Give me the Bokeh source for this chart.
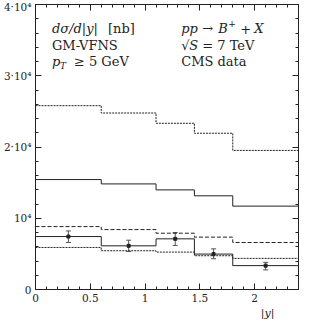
import numpy as np
from bokeh.plotting import figure
from bokeh.models import Range1d, FixedTicker, LinearAxis, Label, Whisker, ColumnDataSource, TeeHead, Title
from bokeh.core.properties import value
from bokeh.embed import file_html
from bokeh.resources import INLINE

# bin edges in |y|
edges = [0.0, 0.6, 1.1, 1.45, 1.8, 2.4]
# theory curves (nb)
upper_dotted = [25800, 24770, 23330, 21930, 19520]
upper_solid = [15430, 14820, 13980, 13150, 11700]
lower_dashed = [8830, 8410, 7900, 7350, 6600]
lower_solid = [7430, 6130, 7110, 4970, 3350]
lower_dotted = [5900, 5440, 5250, 4740, 4370]
# CMS data
data_y = [0.3, 0.85, 1.275, 1.625, 2.1]
data_val = [7430, 6130, 7110, 4970, 3350]
data_lo = [6600, 5340, 6180, 4320, 2750]
data_hi = [8220, 6920, 7990, 5710, 3810]

x_ticks = [0, 0.5, 1, 1.5, 2]
x_tick_labels = ["0", "0.5", "1", "1.5", "2"]
y_ticks = [0, 10000, 20000, 30000, 40000]
y_tick_labels = ["0", "10⁴", "2·10⁴", "3·10⁴", "4·10⁴"]

FONT = "DejaVu Serif"
INK = "#222222"

p = figure(width=301, height=319, output_backend="svg", toolbar_location=None,
           x_range=Range1d(0, 2.4), y_range=Range1d(0, 40000),
           min_border_left=4, min_border_bottom=0, min_border_top=4, min_border_right=3)
p.background_fill_color = "white"
p.border_fill_color = "white"
p.grid.visible = False
p.outline_line_color = INK
p.outline_line_width = 1

x_minor = [round(0.1 * i, 2) for i in range(0, 25)]
y_minor = list(range(0, 40001, 2000))


def style_axis(ax, labels=True):
    ax.major_tick_in = 6
    ax.major_tick_out = 0
    ax.minor_tick_in = 3
    ax.minor_tick_out = 0
    ax.axis_line_color = INK
    ax.major_tick_line_color = INK
    ax.minor_tick_line_color = INK
    if labels:
        ax.major_label_text_font = FONT
        ax.major_label_text_font_size = "10.5px"
        ax.major_label_text_color = INK
        ax.major_label_standoff = 4
    else:
        ax.major_label_text_font_size = "1px"
        ax.major_label_text_color = None
        ax.major_label_standoff = 0


p.xaxis.ticker = FixedTicker(ticks=x_ticks, minor_ticks=x_minor)
p.xaxis.major_label_overrides = dict(zip(x_ticks, x_tick_labels))
p.yaxis.ticker = FixedTicker(ticks=y_ticks, minor_ticks=y_minor)
p.yaxis.major_label_overrides = dict(zip(y_ticks, y_tick_labels))
style_axis(p.xaxis[0])
style_axis(p.yaxis[0])
p.xaxis[0].major_label_standoff = 4

top = LinearAxis(ticker=FixedTicker(ticks=x_ticks, minor_ticks=x_minor))
right = LinearAxis(ticker=FixedTicker(ticks=y_ticks, minor_ticks=y_minor))
style_axis(top, labels=False)
style_axis(right, labels=False)
p.add_layout(top, "above")
p.add_layout(right, "right")

xt = Title(text="|y|", align="right", offset=24, text_font=FONT, text_font_size="11px",
           text_font_style="italic", text_color=INK, standoff=0, text_line_height=1.0)
p.add_layout(xt, "below")


def step(vals, dash, color=INK, width=1.0):
    p.step(x=edges, y=list(vals) + [vals[-1]], mode="after",
           line_color=color, line_width=width, line_dash=dash)


step(upper_dotted, "2 1")
step(upper_solid, "solid")
step(lower_dashed, "4 2")
step(lower_dotted, "2 1")
step(lower_solid, "solid")

src = ColumnDataSource(dict(x=data_y, y=data_val, lo=data_lo, hi=data_hi))
w = Whisker(source=src, base="x", lower="lo", upper="hi", line_color="#555555", line_width=1,
            upper_head=TeeHead(size=5, line_color="#555555"),
            lower_head=TeeHead(size=5, line_color="#555555"))
p.add_layout(w)
p.scatter(x="x", y="y", source=src, size=3, marker="square", color=INK)


def lab(x, y, text, style="normal", size="13px", xo=0, yo=0):
    p.add_layout(Label(x=x, y=y, text=text, x_offset=xo, y_offset=yo,
                       text_font=FONT, text_font_size=size, text_font_style=style,
                       text_color=INK, text_baseline="middle", text_align="left"))


LX, RX = 0.15, 1.33
Y1, Y2, Y3 = 36600, 34300, 31950

lab(LX, Y1, "dσ/d|y|", "italic")
lab(LX, Y1, "[nb]", xo=56)
lab(LX, Y2, "GM-VFNS")
lab(LX, Y3, "p", "italic")
lab(LX, Y3, "T", "italic", size="9px", xo=8, yo=-4)
lab(LX, Y3, "≥ 5 GeV", xo=22)

lab(RX, Y1, "pp", "italic")
lab(RX, Y1, "→", xo=21)
lab(RX, Y1, "B", "italic", xo=37)
lab(RX, Y1, "+", size="9px", xo=47, yo=5)
lab(RX, Y1, "+", xo=59)
lab(RX, Y1, "X", "italic", xo=73)
lab(RX, Y2, "√", xo=0)
lab(RX, Y2, "S", "italic", xo=8)
lab(RX, Y2, "= 7 TeV", xo=21)
lab(RX, Y3, "CMS data")

open("out.html", "w").write(file_html(p, INLINE))
